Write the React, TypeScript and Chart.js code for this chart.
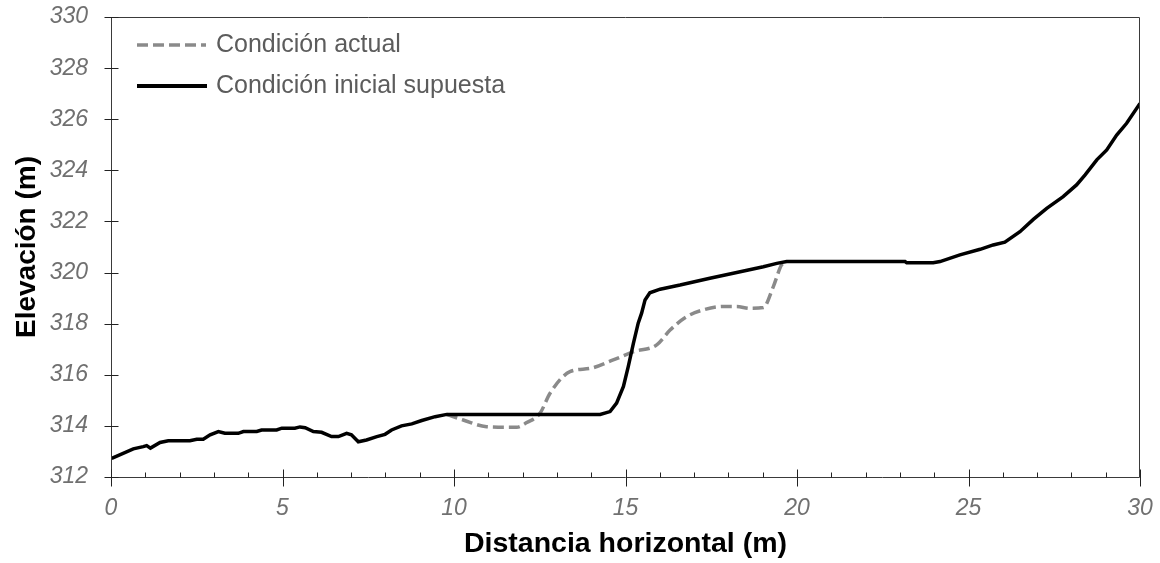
import React, { useEffect, useRef } from "react";
import { Chart, registerables } from "chart.js";

Chart.register(...registerables);

const seriesNames = ["Condición actual", "Condición inicial supuesta"];
const xTitle = "Distancia horizontal (m)";
const yTitle = "Elevación (m)";

const initialX = [
  0.02, 0.65, 0.94, 1.04, 1.15, 1.43, 1.67, 2.3, 2.5, 2.69, 2.89, 3.13, 3.32, 3.71, 3.86,
  4.25, 4.39, 4.83, 4.98, 5.36, 5.51, 5.66, 5.9, 6.14, 6.43, 6.63, 6.87, 7.01, 7.21, 7.45,
  7.75, 7.99, 8.18, 8.47, 8.77, 9.06, 9.45, 9.79, 14.26, 14.55, 14.74, 14.94, 15.08, 15.23,
  15.37, 15.47, 15.57, 15.71, 16.01, 16.59, 17.46, 18.14, 19.02, 19.41, 19.7, 23.15, 23.2,
  23.97, 24.17, 24.75, 25.34, 25.72, 26.06, 26.5, 26.89, 27.28, 27.76, 28.15, 28.4, 28.74,
  29.03, 29.32, 29.61, 30.0,
];
const initialY = [
  312.73, 313.1, 313.19, 313.23, 313.13, 313.35, 313.42, 313.42, 313.48, 313.48, 313.65,
  313.78, 313.71, 313.71, 313.78, 313.78, 313.84, 313.84, 313.91, 313.91, 313.96, 313.93,
  313.78, 313.75, 313.58, 313.58, 313.71, 313.65, 313.38, 313.45, 313.58, 313.67, 313.84,
  314.0, 314.08, 314.21, 314.36, 314.45, 314.45, 314.56, 314.89, 315.54, 316.32, 317.23,
  318.02, 318.41, 318.93, 319.21, 319.35, 319.51, 319.78, 319.97, 320.23, 320.36, 320.43,
  320.43, 320.38, 320.38, 320.43, 320.69, 320.91, 321.08, 321.19, 321.6, 322.08, 322.51,
  322.97, 323.43, 323.82, 324.41, 324.8, 325.38, 325.84, 326.62,
];

const actualX = [
  9.79, 10.27, 10.95, 11.83, 12.12, 12.51, 12.8, 13.38, 13.97, 14.64, 15.23, 15.91, 16.3,
  16.78, 17.27, 17.85, 18.24, 18.63, 19.02, 19.31, 19.55, 19.7,
];
const actualY = [
  314.45, 314.23, 313.97, 313.95, 314.13, 314.5, 315.28, 316.12, 316.25, 316.58, 316.9,
  317.17, 317.75, 318.27, 318.54, 318.67, 318.67, 318.6, 318.63, 319.45, 320.3, 320.43,
];

const xMin = 0;
const xMax = 30;
const xStep = 5;
const yMin = 312;
const yMax = 330;
const yStep = 2;

const FONT = "'Liberation Sans', Arial, sans-serif";

const framePlugin = {
  id: "frameTicks",
  afterDraw(chart: any) {
    const { ctx, chartArea } = chart;
    const xs = chart.scales.x;
    const ys = chart.scales.y;
    ctx.save();
    ctx.strokeStyle = "#3a3a3a";
    ctx.lineWidth = 1;
    ctx.setLineDash([]);
    const l = Math.round(chartArea.left) + 0.5;
    const r = Math.round(chartArea.right) - 0.5;
    const t = Math.round(chartArea.top) + 0.5;
    const b = Math.round(chartArea.bottom) + 0.5;
    ctx.beginPath();
    ctx.moveTo(l, t);
    ctx.lineTo(r, t);
    ctx.lineTo(r, b);
    ctx.lineTo(l, b);
    ctx.closePath();
    ctx.stroke();
    ctx.strokeStyle = "#222";
    ctx.beginPath();
    for (let v = yMin; v <= yMax; v += yStep) {
      const py = Math.round(ys.getPixelForValue(v)) + 0.5;
      ctx.moveTo(l - 7, py);
      ctx.lineTo(l + 7, py);
    }
    for (let v = xMin; v <= xMax; v += 1) {
      const px = Math.round(xs.getPixelForValue(v)) + 0.5;
      if (v % xStep === 0) {
        ctx.moveTo(px, b - 8);
        ctx.lineTo(px, b + 9);
      } else {
        ctx.moveTo(px, b - 5);
        ctx.lineTo(px, b);
      }
    }
    ctx.stroke();

    // legend
    ctx.lineCap = "butt";
    ctx.strokeStyle = "#8a8a8a";
    ctx.lineWidth = 3.5;
    ctx.setLineDash([11, 5]);
    ctx.beginPath();
    ctx.moveTo(137, 45);
    ctx.lineTo(206, 45);
    ctx.stroke();
    ctx.setLineDash([]);
    ctx.strokeStyle = "#000";
    ctx.lineWidth = 4;
    ctx.beginPath();
    ctx.moveTo(137, 86);
    ctx.lineTo(207, 86);
    ctx.stroke();
    ctx.fillStyle = "#5c5c5c";
    ctx.font = `25px ${FONT}`;
    ctx.textBaseline = "middle";
    ctx.textAlign = "left";
    ctx.fillText(seriesNames[0], 216, 45);
    ctx.fillText(seriesNames[1], 216, 86);
    ctx.restore();
  },
};

export default function App() {
  const ref = useRef<HTMLCanvasElement | null>(null);
  useEffect(() => {
    document.body.style.margin = "0";
    if (!ref.current) return;
    const chart = new Chart(ref.current, {
      type: "line",
      data: {
        datasets: [
          {
            label: seriesNames[1],
            data: initialX.map((x, i) => ({ x, y: initialY[i] })),
            borderColor: "#000000",
            borderWidth: 3.5,
            pointRadius: 0,
            tension: 0,
            fill: false,
            order: 1,
          },
          {
            label: seriesNames[0],
            data: actualX.map((x, i) => ({ x, y: actualY[i] })),
            borderColor: "#8a8a8a",
            borderWidth: 3.5,
            borderDash: [11, 5],
            pointRadius: 0,
            cubicInterpolationMode: "monotone",
            fill: false,
            order: 2,
          },
        ],
      },
      options: {
        animation: false,
        responsive: true,
        maintainAspectRatio: false,
        layout: { padding: { top: 17, right: 20, left: 0, bottom: 0 } },
        plugins: {
          legend: { display: false },
          tooltip: { enabled: false },
        },
        scales: {
          x: {
            type: "linear",
            min: xMin,
            max: xMax,
            afterFit: (s: any) => {
              s.height = 86;
              s.paddingLeft = 0;
              s.paddingRight = 0;
            },
            ticks: {
              stepSize: xStep,
              padding: 18,
              color: "#707070",
              font: { family: FONT, size: 23, style: "italic" },
              maxRotation: 0,
            },
            grid: { display: true, drawOnChartArea: false, drawTicks: false, color: "rgba(0,0,0,0)" },
            border: { display: false },
            title: {
              display: true,
              text: xTitle,
              color: "#000",
              font: { family: FONT, size: 28.5, weight: "bold" },
              padding: { top: 0, bottom: 2 },
            },
          },
          y: {
            type: "linear",
            min: yMin,
            max: yMax,
            afterFit: (s: any) => {
              s.width = 111;
              s.paddingTop = 0;
              s.paddingBottom = 0;
            },
            ticks: {
              stepSize: yStep,
              padding: 23,
              color: "#707070",
              font: { family: FONT, size: 23, style: "italic" },
            },
            grid: { display: true, drawOnChartArea: false, drawTicks: false, color: "rgba(0,0,0,0)" },
            border: { display: false },
            title: {
              display: true,
              text: yTitle,
              color: "#000",
              font: { family: FONT, size: 28, weight: "bold" },
              padding: { top: 10, bottom: 0 },
            },
          },
        },
      },
      plugins: [framePlugin],
    } as any);
    return () => chart.destroy();
  }, []);
  return (
    <div style={{ width: 1160, height: 563, position: "relative" }}>
      <canvas ref={ref} />
    </div>
  );
}
